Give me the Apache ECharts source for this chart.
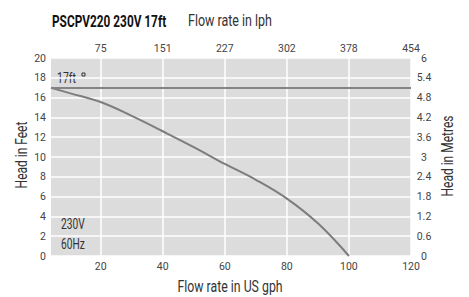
<!DOCTYPE html>
<html>
<head>
<meta charset="utf-8">
<style>
  html, body { margin: 0; padding: 0; background: #fff; }
  #chart { width: 469px; height: 297px; }
</style>
<script src="https://cdn.jsdelivr.net/npm/echarts@6/dist/echarts.min.js"></script>
</head>
<body>
<div id="chart"></div>
<script>
// pump curve, US gph vs head in feet
var flowGph = [4, 10, 20, 30, 40, 50, 60, 70, 80, 90, 100];
var headFt = [17, 16.45, 15.55, 14.15, 12.6, 11.0, 9.3, 7.7, 5.8, 3.3, 0];
var maxHeadFt = 17;

var gphTicks = [20, 40, 60, 80, 100, 120];
var lphLabels = ['75', '151', '227', '302', '378', '454'];

var FONT = 'Roboto, "Liberation Sans", sans-serif';
var chart = echarts.init(document.getElementById('chart'), null, {renderer: 'svg'});

// condensed-looking text, the original uses a narrow face
function label(text, x, y, size, sx, opts) {
    opts = opts || {};
    return {
        type: 'text', x: x, y: y, scaleX: sx, rotation: opts.rot || 0,
        style: {
            text: text,
            font: (opts.bold ? 'bold ' : '') + size + 'px ' + FONT,
            fill: opts.color || '#333',
            textAlign: opts.align || 'left',
            textVerticalAlign: 'middle'
        }
    };
}

var option = {
    animation: false,
    textStyle: { fontFamily: FONT },
    grid: {
        left: 51, right: 58, top: 58, bottom: 41,
        show: true, backgroundColor: '#dcdcdd', borderWidth: 0
    },
    graphic: [
        label('PSCPV220 230V 17ft', 52, 21, 16, 0.74, { bold: true, color: '#111' }),
        label('Flow rate in lph', 188, 21, 16, 0.78),
        label('Flow rate in US gph', 230, 286, 16, 0.77, { align: 'center' }),
        label('Head in Feet', 21, 155, 16, 0.75, { align: 'center', rot: Math.PI / 2 }),
        label('Head in Metres', 447, 156, 16, 0.75, { align: 'center', rot: Math.PI / 2 }),
        label('17ft', 57, 78, 15, 0.7),
        { type: 'rect', x: 82, y: 73, shape: { width: 3, height: 3 }, style: { fill: 'none', stroke: '#333', lineWidth: 1 } },
        label('230V', 61, 224, 15, 0.68),
        label('60Hz', 61, 244, 15, 0.68)
    ],
    xAxis: [
        {
            type: 'value', min: 4, max: 120,
            axisLine: { show: false },
            axisTick: { show: false, customValues: gphTicks },
            axisLabel: { customValues: gphTicks, color: '#444', fontSize: 10.5, margin: 5 },
            splitLine: { show: true, lineStyle: { color: '#fff', width: 1.5 } }
        },
        {
            type: 'value', min: 4, max: 120, position: 'top',
            axisLine: { show: false },
            axisTick: { show: false, customValues: gphTicks },
            axisLabel: {
                customValues: gphTicks, color: '#444', fontSize: 10.5, margin: 4,
                formatter: function (v) { return lphLabels[gphTicks.indexOf(v)]; }
            },
            splitLine: { show: false }
        }
    ],
    yAxis: [
        {
            type: 'value', min: 0, max: 20, interval: 2,
            axisLine: { show: false }, axisTick: { show: false },
            axisLabel: { color: '#444', fontSize: 10.5, margin: 5 },
            splitLine: { show: true, lineStyle: { color: '#fff', width: 1.5 } }
        },
        {
            type: 'value', min: 0, max: 6, interval: 0.6,
            axisLine: { show: false }, axisTick: { show: false },
            axisLabel: {
                color: '#444', fontSize: 10.5, margin: 13, align: 'center',
                formatter: function (v) { return String(Math.round(v * 10) / 10); }
            },
            splitLine: { show: false }
        }
    ],
    series: [
        {
            type: 'line', smooth: 0.4, showSymbol: false,
            data: flowGph.map(function (x, i) { return [x, headFt[i]]; }),
            lineStyle: { color: '#7d7d7e', width: 2 },
            markLine: {
                silent: true, symbol: 'none', label: { show: false },
                lineStyle: { color: '#848485', width: 2, type: 'solid' },
                data: [{ yAxis: maxHeadFt }]
            }
        }
    ]
};
chart.setOption(option);
</script>
</body>
</html>
